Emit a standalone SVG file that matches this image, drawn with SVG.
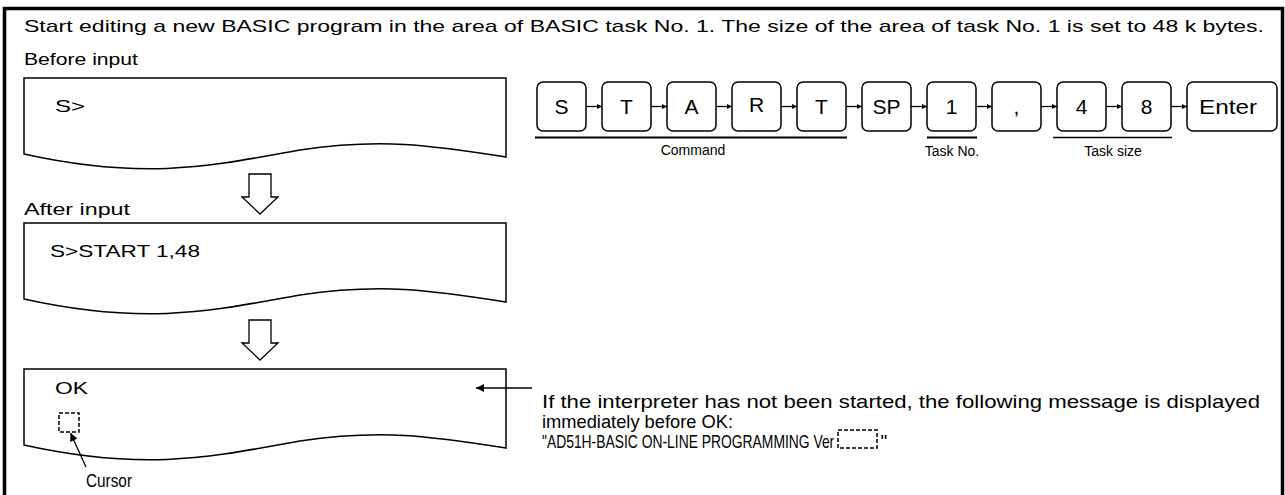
<svg xmlns="http://www.w3.org/2000/svg" width="1285" height="495" viewBox="0 0 1285 495">
<style>
text{font-family:"Liberation Sans",Arial,sans-serif;fill:#000}
.t{font-size:17px}
.k{font-size:21px;text-anchor:middle}
.s{font-size:14px;text-anchor:middle}
.n{font-size:19px}
.scr{fill:#fff;stroke:#000;stroke-width:1.5}
.key{fill:#fff;stroke:#000;stroke-width:1.5}
.dash{fill:none;stroke:#000;stroke-width:1.5;stroke-dasharray:4 2}
.ln{stroke:#000;stroke-width:1.3;fill:none}
.ha{fill:#fff;stroke:#000;stroke-width:1.3}
</style>
<defs>
<marker id="ah" viewBox="0 0 10 10" refX="10" refY="5" markerWidth="5" markerHeight="5" orient="auto" markerUnits="userSpaceOnUse"><path d="M0,0 L10,5 L0,10 Z" fill="#000"/></marker>
<marker id="ah2" viewBox="0 0 10 10" refX="10" refY="5" markerWidth="10" markerHeight="8" orient="auto" markerUnits="userSpaceOnUse"><path d="M0,0 L10,5 L0,10 Z" fill="#000"/></marker>
</defs>
<rect width="1285" height="495" fill="#fff"/>
<path d="M4.5,495 V8.5 H1282.5 V495" fill="none" stroke="#000" stroke-width="3.5"/>
<text class="t" x="24" y="32" textLength="1240" lengthAdjust="spacingAndGlyphs">Start editing a new BASIC program in the area of BASIC task No. 1. The size of the area of task No. 1 is set to 48 k bytes.</text>
<text class="t" x="24" y="65" textLength="114" lengthAdjust="spacingAndGlyphs">Before input</text>
<text class="t" x="24" y="215" textLength="106" lengthAdjust="spacingAndGlyphs">After input</text>
<g id="screen1">
<path class="scr" d="M24,78 H506 V157 C 430,145 380,138 300,150 C 220,164 150,182 24,154 Z"/>
<text class="t" x="55" y="112" textLength="30" lengthAdjust="spacingAndGlyphs">S&gt;</text>
</g>
<g id="screen2">
<path class="scr" d="M24,223 H506 V302 C 430,290 380,283 300,295 C 220,309 150,327 24,299 Z"/>
<text class="t" x="50" y="257" textLength="150" lengthAdjust="spacingAndGlyphs">S&gt;START 1,48</text>
</g>
<g id="screen3">
<path class="scr" d="M24,369 H506 V448 C 430,436 380,429 300,441 C 220,455 150,473 24,445 Z"/>
<text class="t" x="55" y="394" textLength="33" lengthAdjust="spacingAndGlyphs">OK</text>
<rect class="dash" x="59" y="413" width="20" height="19"/>
</g>
<g id="arrow-down-1"><path class="ha" d="M249,174 H271 V197 H278 L260,214 L242,197 H249 Z"/></g>
<g id="arrow-down-2"><path class="ha" d="M249,320 H271 V343 H278 L260,360 L242,343 H249 Z"/></g>
<g id="keys">
<rect class="key" x="537" y="82" width="49" height="49" rx="6"/><text class="k" x="561.5" y="114">S</text>
<rect class="key" x="602" y="82" width="49" height="49" rx="6"/><text class="k" x="626.5" y="114">T</text>
<rect class="key" x="667" y="82" width="49" height="49" rx="6"/><text class="k" x="691.5" y="114">A</text>
<rect class="key" x="732" y="82" width="49" height="49" rx="6"/><text class="k" x="756.5" y="112">R</text>
<rect class="key" x="797" y="82" width="49" height="49" rx="6"/><text class="k" x="821.5" y="114">T</text>
<rect class="key" x="862" y="82" width="49" height="49" rx="6"/><text class="k" x="886.5" y="114">SP</text>
<rect class="key" x="927" y="82" width="49" height="49" rx="6"/><text class="k" x="951.5" y="114">1</text>
<rect class="key" x="992" y="82" width="49" height="49" rx="6"/><text class="k" x="1016.5" y="114">,</text>
<rect class="key" x="1057" y="82" width="49" height="49" rx="6"/><text class="k" x="1081.5" y="114">4</text>
<rect class="key" x="1122" y="82" width="49" height="49" rx="6"/><text class="k" x="1146.5" y="114">8</text>
<rect class="key" x="1187" y="82" width="90" height="49" rx="6"/><text class="k" x="1228" y="114" textLength="58" lengthAdjust="spacingAndGlyphs">Enter</text>
</g>
<g id="labels">
<line x1="535" y1="137.5" x2="847" y2="137.5" stroke="#000" stroke-width="2"/>
<text class="s" x="693" y="155">Command</text>
<line x1="927" y1="137.5" x2="977" y2="137.5" stroke="#000" stroke-width="2"/>
<text class="s" x="952" y="156">Task No.</text>
<line x1="1053" y1="137.5" x2="1172" y2="137.5" stroke="#000" stroke-width="1.5"/>
<text class="s" x="1113" y="156">Task size</text>
</g>
<g id="connectors">
<line class="ln" x1="586" y1="106.5" x2="602" y2="106.5" marker-end="url(#ah)"/>
<line class="ln" x1="651" y1="106.5" x2="667" y2="106.5" marker-end="url(#ah)"/>
<line class="ln" x1="716" y1="106.5" x2="732" y2="106.5" marker-end="url(#ah)"/>
<line class="ln" x1="781" y1="106.5" x2="797" y2="106.5" marker-end="url(#ah)"/>
<line class="ln" x1="846" y1="106.5" x2="862" y2="106.5" marker-end="url(#ah)"/>
<line class="ln" x1="911" y1="106.5" x2="927" y2="106.5" marker-end="url(#ah)"/>
<line class="ln" x1="976" y1="106.5" x2="992" y2="106.5" marker-end="url(#ah)"/>
<line class="ln" x1="1041" y1="106.5" x2="1057" y2="106.5" marker-end="url(#ah)"/>
<line class="ln" x1="1106" y1="106.5" x2="1122" y2="106.5" marker-end="url(#ah)"/>
<line class="ln" x1="1171" y1="106.5" x2="1187" y2="106.5" marker-end="url(#ah)"/>
<line class="ln" x1="532" y1="388" x2="476" y2="388" stroke-width="1.6" marker-end="url(#ah2)"/>
<line class="ln" x1="86" y1="467" x2="70.5" y2="433" stroke-width="1.6" marker-end="url(#ah2)"/>
</g>
<g id="cursor-label">
<text x="86" y="487" font-size="18" textLength="46" lengthAdjust="spacingAndGlyphs">Cursor</text>
</g>
<g id="note">
<text class="n" x="542" y="408" textLength="718" lengthAdjust="spacingAndGlyphs">If the interpreter has not been started, the following message is displayed</text>
<text class="n" x="542" y="428" textLength="191" lengthAdjust="spacingAndGlyphs">immediately before OK:</text>
<text class="n" transform="translate(542,448) scale(0.73,1)" x="0" y="0">"AD51H-BASIC ON-LINE PROGRAMMING Ver</text>
<rect class="dash" x="838" y="430" width="39" height="18"/>
<text class="n" x="880.5" y="448">"</text>
</g>
</svg>
